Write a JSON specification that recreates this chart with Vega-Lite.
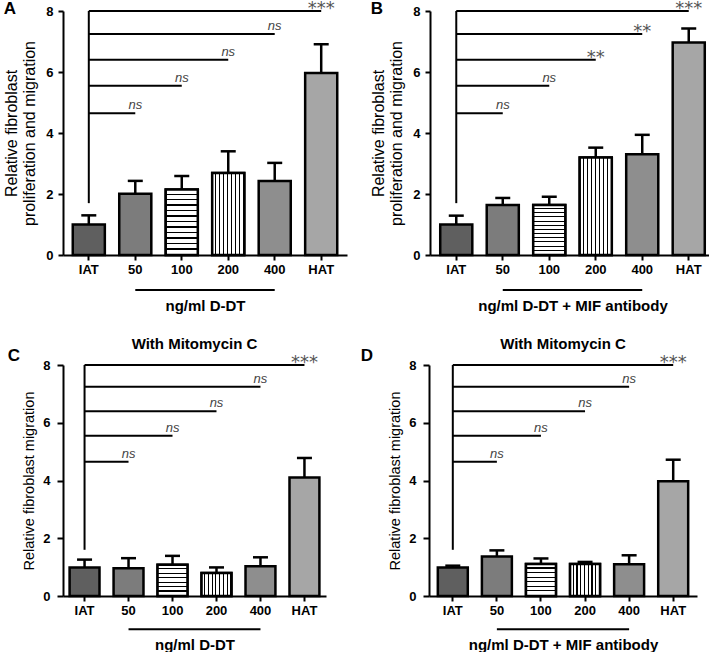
{
  "$schema": "https://vega.github.io/schema/vega-lite/v6.json",
  "padding": {"left": 3, "top": 0, "right": 0, "bottom": 0},
  "background": "white",
  "config": {
    "font": "Liberation Sans",
    "view": {"stroke": null},
    "axis": {"domainColor": "black", "domainWidth": 2, "tickColor": "black", "tickWidth": 2, "tickSize": 5, "labelFont": "Liberation Sans", "labelFontWeight": "bold", "labelFontSize": 13, "labelColor": "black", "titleFont": "Liberation Sans", "titleColor": "black", "grid": false},
    "axisX": {"labelAngle": 0, "titleFontSize": 15, "titleFontWeight": "bold", "titlePadding": 22, "labelPadding": 3},
    "axisY": {"titleFontSize": 16, "titleFontWeight": "normal", "titlePadding": 8, "labelPadding": 5},
    "title": {"font": "Liberation Sans", "color": "black"}
  },
  "datasets": {
    "bars": [
      {"panel": "A", "group": "IAT", "mean": 1.0, "upper": 1.3},
      {"panel": "A", "group": "50", "mean": 2.01, "upper": 2.43},
      {"panel": "A", "group": "100", "mean": 2.15, "upper": 2.59},
      {"panel": "A", "group": "200", "mean": 2.69, "upper": 3.4},
      {"panel": "A", "group": "400", "mean": 2.43, "upper": 3.02},
      {"panel": "A", "group": "HAT", "mean": 5.97, "upper": 6.91},
      {"panel": "B", "group": "IAT", "mean": 1.0, "upper": 1.29},
      {"panel": "B", "group": "50", "mean": 1.64, "upper": 1.87},
      {"panel": "B", "group": "100", "mean": 1.64, "upper": 1.91},
      {"panel": "B", "group": "200", "mean": 3.2, "upper": 3.52},
      {"panel": "B", "group": "400", "mean": 3.3, "upper": 3.94},
      {"panel": "B", "group": "HAT", "mean": 6.97, "upper": 7.43},
      {"panel": "C", "group": "IAT", "mean": 0.99, "upper": 1.26},
      {"panel": "C", "group": "50", "mean": 0.96, "upper": 1.31},
      {"panel": "C", "group": "100", "mean": 1.08, "upper": 1.39},
      {"panel": "C", "group": "200", "mean": 0.8, "upper": 0.99},
      {"panel": "C", "group": "400", "mean": 1.03, "upper": 1.34},
      {"panel": "C", "group": "HAT", "mean": 4.1, "upper": 4.78},
      {"panel": "D", "group": "IAT", "mean": 0.99, "upper": 1.05},
      {"panel": "D", "group": "50", "mean": 1.37, "upper": 1.58},
      {"panel": "D", "group": "100", "mean": 1.11, "upper": 1.3},
      {"panel": "D", "group": "200", "mean": 1.11, "upper": 1.18},
      {"panel": "D", "group": "400", "mean": 1.1, "upper": 1.41},
      {"panel": "D", "group": "HAT", "mean": 3.97, "upper": 4.72}
    ],
    "sig": [
      {"panel": "A", "from": "IAT", "target": "50", "level": 4.65, "label": "ns"},
      {"panel": "A", "from": "IAT", "target": "100", "level": 5.55, "label": "ns"},
      {"panel": "A", "from": "IAT", "target": "200", "level": 6.4, "label": "ns"},
      {"panel": "A", "from": "IAT", "target": "400", "level": 7.25, "label": "ns"},
      {"panel": "A", "from": "IAT", "target": "HAT", "level": 8.0, "label": "***"},
      {"panel": "B", "from": "IAT", "target": "50", "level": 4.65, "label": "ns"},
      {"panel": "B", "from": "IAT", "target": "100", "level": 5.55, "label": "ns"},
      {"panel": "B", "from": "IAT", "target": "200", "level": 6.4, "label": "**"},
      {"panel": "B", "from": "IAT", "target": "400", "level": 7.25, "label": "**"},
      {"panel": "B", "from": "IAT", "target": "HAT", "level": 8.0, "label": "***"},
      {"panel": "C", "from": "IAT", "target": "50", "level": 4.65, "label": "ns"},
      {"panel": "C", "from": "IAT", "target": "100", "level": 5.55, "label": "ns"},
      {"panel": "C", "from": "IAT", "target": "200", "level": 6.4, "label": "ns"},
      {"panel": "C", "from": "IAT", "target": "400", "level": 7.25, "label": "ns"},
      {"panel": "C", "from": "IAT", "target": "HAT", "level": 8.0, "label": "***"},
      {"panel": "D", "from": "IAT", "target": "50", "level": 4.65, "label": "ns"},
      {"panel": "D", "from": "IAT", "target": "100", "level": 5.55, "label": "ns"},
      {"panel": "D", "from": "IAT", "target": "200", "level": 6.4, "label": "ns"},
      {"panel": "D", "from": "IAT", "target": "400", "level": 7.25, "label": "ns"},
      {"panel": "D", "from": "IAT", "target": "HAT", "level": 8.0, "label": "***"}
    ],
    "stems": [
      {"panel": "A", "group": "IAT", "low": 1.7, "high": 8.0, "first": "50", "last": "400"},
      {"panel": "B", "group": "IAT", "low": 1.7, "high": 8.0, "first": "50", "last": "400"},
      {"panel": "C", "group": "IAT", "low": 1.6, "high": 8.0, "first": "50", "last": "400"},
      {"panel": "D", "group": "IAT", "low": 1.6, "high": 8.0, "first": "50", "last": "400"}
    ]
  },
  "spacing": 24,
  "vconcat": [
    {
      "spacing": 23,
      "hconcat": [
        {
          "width": 284, "height": 244,
          "title": {"text": "A", "anchor": "start", "frame": "bounds", "fontSize": 17, "fontWeight": "bold", "dy": 22},
          "layer": [
            {"data": {"name": "bars"}, "transform": [{"filter": "datum.panel === 'A'"}],
             "mark": {"type": "bar", "stroke": "black", "strokeWidth": 2.5},
             "encoding": {
               "x": {"field": "group", "type": "nominal", "scale": {"domain": ["IAT", "50", "100", "200", "400", "HAT"], "paddingInner": 0.31, "paddingOuter": 0.21}, "axis": {"title": "ng/ml D-DT"}},
               "y": {"field": "mean", "type": "quantitative", "scale": {"domain": [0, 8]}, "axis": {"values": [0, 2, 4, 6, 8], "title": ["Relative fibroblast", "proliferation and migration"], "titleLineHeight": 18}},
               "fill": {"field": "group", "type": "nominal", "legend": null, "scale": {"domain": ["IAT", "50", "100", "200", "400", "HAT"], "range": ["#5f5f5f", "#7c7c7c", "white", "white", "#8e8e8e", "#a6a6a6"]}}
             }},
            {"data": {"name": "bars"}, "transform": [{"filter": "datum.panel === 'A' && datum.group === '100'"}],
             "mark": {"type": "bar", "stroke": "black", "strokeWidth": 2.5, "fill": {"gradient": "linear", "x1": 0, "y1": 0, "x2": 0, "y2": 1, "stops": [{"offset":0,"color":"white"},{"offset":0.0625,"color":"white"},{"offset":0.0625,"color":"black"},{"offset":0.0833,"color":"black"},{"offset":0.0833,"color":"white"},{"offset":0.1458,"color":"white"},{"offset":0.1458,"color":"black"},{"offset":0.1667,"color":"black"},{"offset":0.1667,"color":"white"},{"offset":0.2292,"color":"white"},{"offset":0.2292,"color":"black"},{"offset":0.25,"color":"black"},{"offset":0.25,"color":"white"},{"offset":0.3125,"color":"white"},{"offset":0.3125,"color":"black"},{"offset":0.3333,"color":"black"},{"offset":0.3333,"color":"white"},{"offset":0.3958,"color":"white"},{"offset":0.3958,"color":"black"},{"offset":0.4167,"color":"black"},{"offset":0.4167,"color":"white"},{"offset":0.4792,"color":"white"},{"offset":0.4792,"color":"black"},{"offset":0.5,"color":"black"},{"offset":0.5,"color":"white"},{"offset":0.5625,"color":"white"},{"offset":0.5625,"color":"black"},{"offset":0.5833,"color":"black"},{"offset":0.5833,"color":"white"},{"offset":0.6458,"color":"white"},{"offset":0.6458,"color":"black"},{"offset":0.6667,"color":"black"},{"offset":0.6667,"color":"white"},{"offset":0.7292,"color":"white"},{"offset":0.7292,"color":"black"},{"offset":0.75,"color":"black"},{"offset":0.75,"color":"white"},{"offset":0.8125,"color":"white"},{"offset":0.8125,"color":"black"},{"offset":0.8333,"color":"black"},{"offset":0.8333,"color":"white"},{"offset":0.8958,"color":"white"},{"offset":0.8958,"color":"black"},{"offset":0.9167,"color":"black"},{"offset":0.9167,"color":"white"},{"offset":0.9792,"color":"white"},{"offset":0.9792,"color":"black"},{"offset":1,"color":"black"}]}},
             "encoding": {"x": {"field": "group", "type": "nominal"}, "y": {"field": "mean", "type": "quantitative"}}},
            {"data": {"name": "bars"}, "transform": [{"filter": "datum.panel === 'A' && datum.group === '200'"}],
             "mark": {"type": "bar", "stroke": "black", "strokeWidth": 2.5, "fill": {"gradient": "linear", "x1": 0, "y1": 0, "x2": 1, "y2": 0, "stops": [{"offset":0,"color":"white"},{"offset":0.09,"color":"white"},{"offset":0.09,"color":"black"},{"offset":0.125,"color":"black"},{"offset":0.125,"color":"white"},{"offset":0.215,"color":"white"},{"offset":0.215,"color":"black"},{"offset":0.25,"color":"black"},{"offset":0.25,"color":"white"},{"offset":0.34,"color":"white"},{"offset":0.34,"color":"black"},{"offset":0.375,"color":"black"},{"offset":0.375,"color":"white"},{"offset":0.465,"color":"white"},{"offset":0.465,"color":"black"},{"offset":0.5,"color":"black"},{"offset":0.5,"color":"white"},{"offset":0.59,"color":"white"},{"offset":0.59,"color":"black"},{"offset":0.625,"color":"black"},{"offset":0.625,"color":"white"},{"offset":0.715,"color":"white"},{"offset":0.715,"color":"black"},{"offset":0.75,"color":"black"},{"offset":0.75,"color":"white"},{"offset":0.84,"color":"white"},{"offset":0.84,"color":"black"},{"offset":0.875,"color":"black"},{"offset":0.875,"color":"white"},{"offset":0.965,"color":"white"},{"offset":0.965,"color":"black"},{"offset":1,"color":"black"}]}},
             "encoding": {"x": {"field": "group", "type": "nominal"}, "y": {"field": "mean", "type": "quantitative"}}},
            {"data": {"name": "bars"}, "transform": [{"filter": "datum.panel === 'A'"}],
             "mark": {"type": "rule", "strokeWidth": 2.5, "color": "black"},
             "encoding": {"x": {"field": "group", "type": "nominal"}, "y": {"field": "mean", "type": "quantitative"}, "y2": {"field": "upper"}}},
            {"data": {"name": "bars"}, "transform": [{"filter": "datum.panel === 'A'"}],
             "mark": {"type": "tick", "size": 15, "thickness": 2.5, "color": "black", "opacity": 1},
             "encoding": {"x": {"field": "group", "type": "nominal"}, "y": {"field": "upper", "type": "quantitative"}}},
            {"data": {"name": "sig"}, "transform": [{"filter": "datum.panel === 'A'"}],
             "mark": {"type": "rule", "strokeWidth": 2, "color": "black"},
             "encoding": {"x": {"field": "from", "type": "nominal"}, "x2": {"field": "target"}, "y": {"field": "level", "type": "quantitative"}}},
            {"data": {"name": "stems"}, "transform": [{"filter": "datum.panel === 'A'"}],
             "mark": {"type": "rule", "strokeWidth": 2, "color": "black"},
             "encoding": {"x": {"field": "group", "type": "nominal"}, "y": {"field": "low", "type": "quantitative"}, "y2": {"field": "high"}}},
            {"data": {"name": "sig"}, "transform": [{"filter": "datum.panel === 'A' && datum.label === 'ns'"}],
             "mark": {"type": "text", "fontStyle": "italic", "fontSize": 13, "color": "#444", "baseline": "alphabetic", "dy": -4},
             "encoding": {"x": {"field": "target", "type": "nominal"}, "y": {"field": "level", "type": "quantitative"}, "text": {"field": "label"}}},
            {"data": {"name": "sig"}, "transform": [{"filter": "datum.panel === 'A' && datum.label !== 'ns'"}],
             "mark": {"type": "text", "font": "DejaVu Sans", "fontSize": 18, "color": "#555", "baseline": "alphabetic", "dy": 3},
             "encoding": {"x": {"field": "target", "type": "nominal"}, "y": {"field": "level", "type": "quantitative"}, "text": {"field": "label"}}},
            {"data": {"name": "stems"}, "transform": [{"filter": "datum.panel === 'A'"}],
             "mark": {"type": "rule", "strokeWidth": 2, "color": "black"},
             "encoding": {"x": {"field": "first", "type": "nominal"}, "x2": {"field": "last"}, "y": {"datum": -1.15}}}
          ]
        },
        {
          "width": 285, "height": 244,
          "title": {"text": "B", "anchor": "start", "frame": "bounds", "fontSize": 17, "fontWeight": "bold", "dy": 22},
          "layer": [
            {"data": {"name": "bars"}, "transform": [{"filter": "datum.panel === 'B'"}],
             "mark": {"type": "bar", "stroke": "black", "strokeWidth": 2.5},
             "encoding": {
               "x": {"field": "group", "type": "nominal", "scale": {"domain": ["IAT", "50", "100", "200", "400", "HAT"], "paddingInner": 0.31, "paddingOuter": 0.22}, "axis": {"title": "ng/ml D-DT + MIF antibody"}},
               "y": {"field": "mean", "type": "quantitative", "scale": {"domain": [0, 8]}, "axis": {"values": [0, 2, 4, 6, 8], "title": ["Relative fibroblast", "proliferation and migration"], "titleLineHeight": 18}},
               "fill": {"field": "group", "type": "nominal", "legend": null}
             }},
            {"data": {"name": "bars"}, "transform": [{"filter": "datum.panel === 'B' && datum.group === '100'"}],
             "mark": {"type": "bar", "stroke": "black", "strokeWidth": 2.5, "fill": {"gradient": "linear", "x1": 0, "y1": 0, "x2": 0, "y2": 1, "stops": [{"offset":0,"color":"white"},{"offset":0.0625,"color":"white"},{"offset":0.0625,"color":"black"},{"offset":0.0833,"color":"black"},{"offset":0.0833,"color":"white"},{"offset":0.1458,"color":"white"},{"offset":0.1458,"color":"black"},{"offset":0.1667,"color":"black"},{"offset":0.1667,"color":"white"},{"offset":0.2292,"color":"white"},{"offset":0.2292,"color":"black"},{"offset":0.25,"color":"black"},{"offset":0.25,"color":"white"},{"offset":0.3125,"color":"white"},{"offset":0.3125,"color":"black"},{"offset":0.3333,"color":"black"},{"offset":0.3333,"color":"white"},{"offset":0.3958,"color":"white"},{"offset":0.3958,"color":"black"},{"offset":0.4167,"color":"black"},{"offset":0.4167,"color":"white"},{"offset":0.4792,"color":"white"},{"offset":0.4792,"color":"black"},{"offset":0.5,"color":"black"},{"offset":0.5,"color":"white"},{"offset":0.5625,"color":"white"},{"offset":0.5625,"color":"black"},{"offset":0.5833,"color":"black"},{"offset":0.5833,"color":"white"},{"offset":0.6458,"color":"white"},{"offset":0.6458,"color":"black"},{"offset":0.6667,"color":"black"},{"offset":0.6667,"color":"white"},{"offset":0.7292,"color":"white"},{"offset":0.7292,"color":"black"},{"offset":0.75,"color":"black"},{"offset":0.75,"color":"white"},{"offset":0.8125,"color":"white"},{"offset":0.8125,"color":"black"},{"offset":0.8333,"color":"black"},{"offset":0.8333,"color":"white"},{"offset":0.8958,"color":"white"},{"offset":0.8958,"color":"black"},{"offset":0.9167,"color":"black"},{"offset":0.9167,"color":"white"},{"offset":0.9792,"color":"white"},{"offset":0.9792,"color":"black"},{"offset":1,"color":"black"}]}},
             "encoding": {"x": {"field": "group", "type": "nominal"}, "y": {"field": "mean", "type": "quantitative"}}},
            {"data": {"name": "bars"}, "transform": [{"filter": "datum.panel === 'B' && datum.group === '200'"}],
             "mark": {"type": "bar", "stroke": "black", "strokeWidth": 2.5, "fill": {"gradient": "linear", "x1": 0, "y1": 0, "x2": 1, "y2": 0, "stops": [{"offset":0,"color":"white"},{"offset":0.09,"color":"white"},{"offset":0.09,"color":"black"},{"offset":0.125,"color":"black"},{"offset":0.125,"color":"white"},{"offset":0.215,"color":"white"},{"offset":0.215,"color":"black"},{"offset":0.25,"color":"black"},{"offset":0.25,"color":"white"},{"offset":0.34,"color":"white"},{"offset":0.34,"color":"black"},{"offset":0.375,"color":"black"},{"offset":0.375,"color":"white"},{"offset":0.465,"color":"white"},{"offset":0.465,"color":"black"},{"offset":0.5,"color":"black"},{"offset":0.5,"color":"white"},{"offset":0.59,"color":"white"},{"offset":0.59,"color":"black"},{"offset":0.625,"color":"black"},{"offset":0.625,"color":"white"},{"offset":0.715,"color":"white"},{"offset":0.715,"color":"black"},{"offset":0.75,"color":"black"},{"offset":0.75,"color":"white"},{"offset":0.84,"color":"white"},{"offset":0.84,"color":"black"},{"offset":0.875,"color":"black"},{"offset":0.875,"color":"white"},{"offset":0.965,"color":"white"},{"offset":0.965,"color":"black"},{"offset":1,"color":"black"}]}},
             "encoding": {"x": {"field": "group", "type": "nominal"}, "y": {"field": "mean", "type": "quantitative"}}},
            {"data": {"name": "bars"}, "transform": [{"filter": "datum.panel === 'B'"}],
             "mark": {"type": "rule", "strokeWidth": 2.5, "color": "black"},
             "encoding": {"x": {"field": "group", "type": "nominal"}, "y": {"field": "mean", "type": "quantitative"}, "y2": {"field": "upper"}}},
            {"data": {"name": "bars"}, "transform": [{"filter": "datum.panel === 'B'"}],
             "mark": {"type": "tick", "size": 15, "thickness": 2.5, "color": "black", "opacity": 1},
             "encoding": {"x": {"field": "group", "type": "nominal"}, "y": {"field": "upper", "type": "quantitative"}}},
            {"data": {"name": "sig"}, "transform": [{"filter": "datum.panel === 'B'"}],
             "mark": {"type": "rule", "strokeWidth": 2, "color": "black"},
             "encoding": {"x": {"field": "from", "type": "nominal"}, "x2": {"field": "target"}, "y": {"field": "level", "type": "quantitative"}}},
            {"data": {"name": "stems"}, "transform": [{"filter": "datum.panel === 'B'"}],
             "mark": {"type": "rule", "strokeWidth": 2, "color": "black"},
             "encoding": {"x": {"field": "group", "type": "nominal"}, "y": {"field": "low", "type": "quantitative"}, "y2": {"field": "high"}}},
            {"data": {"name": "sig"}, "transform": [{"filter": "datum.panel === 'B' && datum.label === 'ns'"}],
             "mark": {"type": "text", "fontStyle": "italic", "fontSize": 13, "color": "#444", "baseline": "alphabetic", "dy": -4},
             "encoding": {"x": {"field": "target", "type": "nominal"}, "y": {"field": "level", "type": "quantitative"}, "text": {"field": "label"}}},
            {"data": {"name": "sig"}, "transform": [{"filter": "datum.panel === 'B' && datum.label !== 'ns'"}],
             "mark": {"type": "text", "font": "DejaVu Sans", "fontSize": 18, "color": "#555", "baseline": "alphabetic", "dy": 3},
             "encoding": {"x": {"field": "target", "type": "nominal"}, "y": {"field": "level", "type": "quantitative"}, "text": {"field": "label"}}},
            {"data": {"name": "stems"}, "transform": [{"filter": "datum.panel === 'B'"}],
             "mark": {"type": "rule", "strokeWidth": 2, "color": "black"},
             "encoding": {"x": {"field": "first", "type": "nominal"}, "x2": {"field": "last"}, "y": {"datum": -1.15}}}
          ]
        }
      ]
    },
    {
      "spacing": 34,
      "hconcat": [
        {
          "title": {"text": "C", "anchor": "start", "fontSize": 17, "fontWeight": "bold", "offset": -20, "dx": -14, "dy": 8},
          "vconcat": [
            {
              "width": 263, "height": 231,
              "title": {"text": "With Mitomycin C", "anchor": "middle", "frame": "group", "fontSize": 15, "fontWeight": "bold", "offset": 2},
              "layer": [
                {"data": {"name": "bars"}, "transform": [{"filter": "datum.panel === 'C'"}],
                 "mark": {"type": "bar", "stroke": "black", "strokeWidth": 2.5},
                 "encoding": {
                   "x": {"field": "group", "type": "nominal", "scale": {"domain": ["IAT", "50", "100", "200", "400", "HAT"], "paddingInner": 0.32, "paddingOuter": 0.15}, "axis": {"title": "ng/ml D-DT", "titlePadding": 20}},
                   "y": {"field": "mean", "type": "quantitative", "scale": {"domain": [0, 8]}, "axis": {"values": [0, 2, 4, 6, 8], "title": "Relative fibroblast migration", "titleFontSize": 14.5, "titlePadding": 6, "labelPadding": 7, "tickSize": 6}},
                   "fill": {"field": "group", "type": "nominal", "legend": null}
                 }},
                {"data": {"name": "bars"}, "transform": [{"filter": "datum.panel === 'C' && datum.group === '100'"}],
                 "mark": {"type": "bar", "stroke": "black", "strokeWidth": 2.5, "fill": {"gradient": "linear", "x1": 0, "y1": 0, "x2": 0, "y2": 1, "stops": [{"offset":0,"color":"white"},{"offset":0.1071,"color":"white"},{"offset":0.1071,"color":"black"},{"offset":0.1429,"color":"black"},{"offset":0.1429,"color":"white"},{"offset":0.25,"color":"white"},{"offset":0.25,"color":"black"},{"offset":0.2857,"color":"black"},{"offset":0.2857,"color":"white"},{"offset":0.3929,"color":"white"},{"offset":0.3929,"color":"black"},{"offset":0.4286,"color":"black"},{"offset":0.4286,"color":"white"},{"offset":0.5357,"color":"white"},{"offset":0.5357,"color":"black"},{"offset":0.5714,"color":"black"},{"offset":0.5714,"color":"white"},{"offset":0.6786,"color":"white"},{"offset":0.6786,"color":"black"},{"offset":0.7143,"color":"black"},{"offset":0.7143,"color":"white"},{"offset":0.8214,"color":"white"},{"offset":0.8214,"color":"black"},{"offset":0.8571,"color":"black"},{"offset":0.8571,"color":"white"},{"offset":0.9643,"color":"white"},{"offset":0.9643,"color":"black"},{"offset":1,"color":"black"}]}},
                 "encoding": {"x": {"field": "group", "type": "nominal"}, "y": {"field": "mean", "type": "quantitative"}}},
                {"data": {"name": "bars"}, "transform": [{"filter": "datum.panel === 'C' && datum.group === '200'"}],
                 "mark": {"type": "bar", "stroke": "black", "strokeWidth": 2.5, "fill": {"gradient": "linear", "x1": 0, "y1": 0, "x2": 1, "y2": 0, "stops": [{"offset":0,"color":"white"},{"offset":0.09,"color":"white"},{"offset":0.09,"color":"black"},{"offset":0.125,"color":"black"},{"offset":0.125,"color":"white"},{"offset":0.215,"color":"white"},{"offset":0.215,"color":"black"},{"offset":0.25,"color":"black"},{"offset":0.25,"color":"white"},{"offset":0.34,"color":"white"},{"offset":0.34,"color":"black"},{"offset":0.375,"color":"black"},{"offset":0.375,"color":"white"},{"offset":0.465,"color":"white"},{"offset":0.465,"color":"black"},{"offset":0.5,"color":"black"},{"offset":0.5,"color":"white"},{"offset":0.59,"color":"white"},{"offset":0.59,"color":"black"},{"offset":0.625,"color":"black"},{"offset":0.625,"color":"white"},{"offset":0.715,"color":"white"},{"offset":0.715,"color":"black"},{"offset":0.75,"color":"black"},{"offset":0.75,"color":"white"},{"offset":0.84,"color":"white"},{"offset":0.84,"color":"black"},{"offset":0.875,"color":"black"},{"offset":0.875,"color":"white"},{"offset":0.965,"color":"white"},{"offset":0.965,"color":"black"},{"offset":1,"color":"black"}]}},
                 "encoding": {"x": {"field": "group", "type": "nominal"}, "y": {"field": "mean", "type": "quantitative"}}},
                {"data": {"name": "bars"}, "transform": [{"filter": "datum.panel === 'C'"}],
                 "mark": {"type": "rule", "strokeWidth": 2.5, "color": "black"},
                 "encoding": {"x": {"field": "group", "type": "nominal"}, "y": {"field": "mean", "type": "quantitative"}, "y2": {"field": "upper"}}},
                {"data": {"name": "bars"}, "transform": [{"filter": "datum.panel === 'C'"}],
                 "mark": {"type": "tick", "size": 15, "thickness": 2.5, "color": "black", "opacity": 1},
                 "encoding": {"x": {"field": "group", "type": "nominal"}, "y": {"field": "upper", "type": "quantitative"}}},
                {"data": {"name": "sig"}, "transform": [{"filter": "datum.panel === 'C'"}],
                 "mark": {"type": "rule", "strokeWidth": 2, "color": "black"},
                 "encoding": {"x": {"field": "from", "type": "nominal"}, "x2": {"field": "target"}, "y": {"field": "level", "type": "quantitative"}}},
                {"data": {"name": "stems"}, "transform": [{"filter": "datum.panel === 'C'"}],
                 "mark": {"type": "rule", "strokeWidth": 2, "color": "black"},
                 "encoding": {"x": {"field": "group", "type": "nominal"}, "y": {"field": "low", "type": "quantitative"}, "y2": {"field": "high"}}},
                {"data": {"name": "sig"}, "transform": [{"filter": "datum.panel === 'C' && datum.label === 'ns'"}],
                 "mark": {"type": "text", "fontStyle": "italic", "fontSize": 13, "color": "#444", "baseline": "alphabetic", "dy": -4},
                 "encoding": {"x": {"field": "target", "type": "nominal"}, "y": {"field": "level", "type": "quantitative"}, "text": {"field": "label"}}},
                {"data": {"name": "sig"}, "transform": [{"filter": "datum.panel === 'C' && datum.label !== 'ns'"}],
                 "mark": {"type": "text", "font": "DejaVu Sans", "fontSize": 18, "color": "#555", "baseline": "alphabetic", "dy": 3},
                 "encoding": {"x": {"field": "target", "type": "nominal"}, "y": {"field": "level", "type": "quantitative"}, "text": {"field": "label"}}},
                {"data": {"name": "stems"}, "transform": [{"filter": "datum.panel === 'C'"}],
                 "mark": {"type": "rule", "strokeWidth": 2, "color": "black"},
                 "encoding": {"x": {"field": "first", "type": "nominal"}, "x2": {"field": "last"}, "y": {"datum": -1.15}}}
              ]
            }
          ]
        },
        {
          "title": {"text": "D", "anchor": "start", "fontSize": 17, "fontWeight": "bold", "offset": -20, "dx": -27, "dy": 8},
          "vconcat": [
            {
              "width": 268, "height": 231,
              "title": {"text": "With Mitomycin C", "anchor": "middle", "frame": "group", "fontSize": 15, "fontWeight": "bold", "offset": 2},
              "layer": [
                {"data": {"name": "bars"}, "transform": [{"filter": "datum.panel === 'D'"}],
                 "mark": {"type": "bar", "stroke": "black", "strokeWidth": 2.5},
                 "encoding": {
                   "x": {"field": "group", "type": "nominal", "scale": {"domain": ["IAT", "50", "100", "200", "400", "HAT"], "paddingInner": 0.32, "paddingOuter": 0.2}, "axis": {"title": "ng/ml D-DT + MIF antibody", "titlePadding": 20}},
                   "y": {"field": "mean", "type": "quantitative", "scale": {"domain": [0, 8]}, "axis": {"values": [0, 2, 4, 6, 8], "title": "Relative fibroblast migration", "titleFontSize": 14.5, "titlePadding": 6, "labelPadding": 7, "tickSize": 6}},
                   "fill": {"field": "group", "type": "nominal", "legend": null}
                 }},
                {"data": {"name": "bars"}, "transform": [{"filter": "datum.panel === 'D' && datum.group === '100'"}],
                 "mark": {"type": "bar", "stroke": "black", "strokeWidth": 2.5, "fill": {"gradient": "linear", "x1": 0, "y1": 0, "x2": 0, "y2": 1, "stops": [{"offset":0,"color":"white"},{"offset":0.1071,"color":"white"},{"offset":0.1071,"color":"black"},{"offset":0.1429,"color":"black"},{"offset":0.1429,"color":"white"},{"offset":0.25,"color":"white"},{"offset":0.25,"color":"black"},{"offset":0.2857,"color":"black"},{"offset":0.2857,"color":"white"},{"offset":0.3929,"color":"white"},{"offset":0.3929,"color":"black"},{"offset":0.4286,"color":"black"},{"offset":0.4286,"color":"white"},{"offset":0.5357,"color":"white"},{"offset":0.5357,"color":"black"},{"offset":0.5714,"color":"black"},{"offset":0.5714,"color":"white"},{"offset":0.6786,"color":"white"},{"offset":0.6786,"color":"black"},{"offset":0.7143,"color":"black"},{"offset":0.7143,"color":"white"},{"offset":0.8214,"color":"white"},{"offset":0.8214,"color":"black"},{"offset":0.8571,"color":"black"},{"offset":0.8571,"color":"white"},{"offset":0.9643,"color":"white"},{"offset":0.9643,"color":"black"},{"offset":1,"color":"black"}]}},
                 "encoding": {"x": {"field": "group", "type": "nominal"}, "y": {"field": "mean", "type": "quantitative"}}},
                {"data": {"name": "bars"}, "transform": [{"filter": "datum.panel === 'D' && datum.group === '200'"}],
                 "mark": {"type": "bar", "stroke": "black", "strokeWidth": 2.5, "fill": {"gradient": "linear", "x1": 0, "y1": 0, "x2": 1, "y2": 0, "stops": [{"offset":0,"color":"white"},{"offset":0.09,"color":"white"},{"offset":0.09,"color":"black"},{"offset":0.125,"color":"black"},{"offset":0.125,"color":"white"},{"offset":0.215,"color":"white"},{"offset":0.215,"color":"black"},{"offset":0.25,"color":"black"},{"offset":0.25,"color":"white"},{"offset":0.34,"color":"white"},{"offset":0.34,"color":"black"},{"offset":0.375,"color":"black"},{"offset":0.375,"color":"white"},{"offset":0.465,"color":"white"},{"offset":0.465,"color":"black"},{"offset":0.5,"color":"black"},{"offset":0.5,"color":"white"},{"offset":0.59,"color":"white"},{"offset":0.59,"color":"black"},{"offset":0.625,"color":"black"},{"offset":0.625,"color":"white"},{"offset":0.715,"color":"white"},{"offset":0.715,"color":"black"},{"offset":0.75,"color":"black"},{"offset":0.75,"color":"white"},{"offset":0.84,"color":"white"},{"offset":0.84,"color":"black"},{"offset":0.875,"color":"black"},{"offset":0.875,"color":"white"},{"offset":0.965,"color":"white"},{"offset":0.965,"color":"black"},{"offset":1,"color":"black"}]}},
                 "encoding": {"x": {"field": "group", "type": "nominal"}, "y": {"field": "mean", "type": "quantitative"}}},
                {"data": {"name": "bars"}, "transform": [{"filter": "datum.panel === 'D'"}],
                 "mark": {"type": "rule", "strokeWidth": 2.5, "color": "black"},
                 "encoding": {"x": {"field": "group", "type": "nominal"}, "y": {"field": "mean", "type": "quantitative"}, "y2": {"field": "upper"}}},
                {"data": {"name": "bars"}, "transform": [{"filter": "datum.panel === 'D'"}],
                 "mark": {"type": "tick", "size": 15, "thickness": 2.5, "color": "black", "opacity": 1},
                 "encoding": {"x": {"field": "group", "type": "nominal"}, "y": {"field": "upper", "type": "quantitative"}}},
                {"data": {"name": "sig"}, "transform": [{"filter": "datum.panel === 'D'"}],
                 "mark": {"type": "rule", "strokeWidth": 2, "color": "black"},
                 "encoding": {"x": {"field": "from", "type": "nominal"}, "x2": {"field": "target"}, "y": {"field": "level", "type": "quantitative"}}},
                {"data": {"name": "stems"}, "transform": [{"filter": "datum.panel === 'D'"}],
                 "mark": {"type": "rule", "strokeWidth": 2, "color": "black"},
                 "encoding": {"x": {"field": "group", "type": "nominal"}, "y": {"field": "low", "type": "quantitative"}, "y2": {"field": "high"}}},
                {"data": {"name": "sig"}, "transform": [{"filter": "datum.panel === 'D' && datum.label === 'ns'"}],
                 "mark": {"type": "text", "fontStyle": "italic", "fontSize": 13, "color": "#444", "baseline": "alphabetic", "dy": -4},
                 "encoding": {"x": {"field": "target", "type": "nominal"}, "y": {"field": "level", "type": "quantitative"}, "text": {"field": "label"}}},
                {"data": {"name": "sig"}, "transform": [{"filter": "datum.panel === 'D' && datum.label !== 'ns'"}],
                 "mark": {"type": "text", "font": "DejaVu Sans", "fontSize": 18, "color": "#555", "baseline": "alphabetic", "dy": 3},
                 "encoding": {"x": {"field": "target", "type": "nominal"}, "y": {"field": "level", "type": "quantitative"}, "text": {"field": "label"}}},
                {"data": {"name": "stems"}, "transform": [{"filter": "datum.panel === 'D'"}],
                 "mark": {"type": "rule", "strokeWidth": 2, "color": "black"},
                 "encoding": {"x": {"field": "first", "type": "nominal"}, "x2": {"field": "last"}, "y": {"datum": -1.15}}}
              ]
            }
          ]
        }
      ]
    }
  ]
}
